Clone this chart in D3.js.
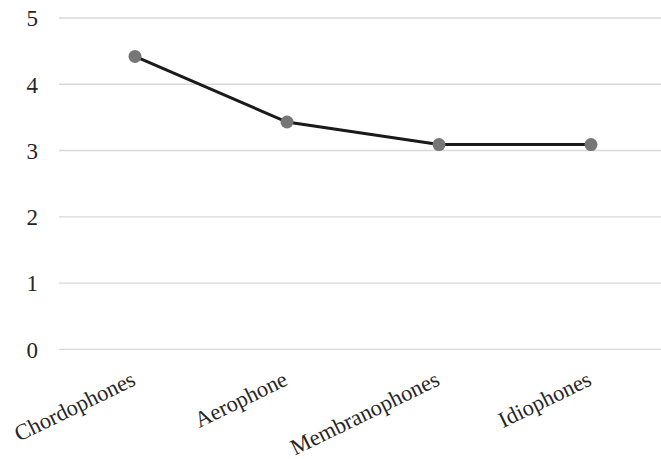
<!DOCTYPE html>
<html>
<head>
<meta charset="utf-8">
<script src="https://cdn.jsdelivr.net/npm/d3@7"></script>
<style>
  html, body { margin: 0; padding: 0; background: #fff; }
  svg { display: block; }
  text { font-family: "Liberation Serif", "Times New Roman", serif; fill: #262626; }
</style>
</head>
<body>
<svg id="chart" width="661" height="459"></svg>
<script>
// Instrument families and their mean scores
const categories = ["Chordophones", "Aerophone", "Membranophones", "Idiophones"];
const values = [4.42, 3.43, 3.09, 3.09];
const yTicks = [0, 1, 2, 3, 4, 5];

const svg = d3.select("#chart");
const plotLeft = 59, plotRight = 667, plotTop = 18, plotBottom = 349.3;

const x = d3.scaleBand().domain(categories).range([plotLeft, plotRight]);
const y = d3.scaleLinear().domain([0, 5]).range([plotBottom, plotTop]);

// Horizontal gridlines
svg.append("g")
  .selectAll("line")
  .data(yTicks)
  .join("line")
  .attr("x1", plotLeft)
  .attr("x2", plotRight)
  .attr("y1", d => y(d))
  .attr("y2", d => y(d))
  .attr("stroke", "#d9d9d9")
  .attr("stroke-width", 1.3);

// Y axis labels
const yAxis = svg.append("g")
  .attr("transform", `translate(${plotLeft - 21},0)`)
  .call(d3.axisLeft(y).tickValues(yTicks).tickSize(0).tickPadding(0).tickFormat(d3.format("d")));
yAxis.select(".domain").remove();
yAxis.selectAll("text")
  .attr("font-size", 23)
  .attr("fill", "#262626")
  .attr("dy", "0.34em");

// X axis labels, rotated
const xAxis = svg.append("g")
  .attr("transform", `translate(0,${plotBottom})`)
  .call(d3.axisBottom(x).tickSize(0).tickPadding(0));
xAxis.select(".domain").remove();
xAxis.selectAll("text")
  .attr("font-size", 22.5)
  .attr("fill", "#262626")
  .attr("text-anchor", "end")
  .attr("y", 0)
  .attr("dy", 0)
  .attr("transform", "translate(2,35) rotate(-26)");

// Line series
const line = d3.line()
  .x((d, i) => x(categories[i]) + x.bandwidth() / 2)
  .y(d => y(d));

svg.append("path")
  .datum(values)
  .attr("d", line)
  .attr("fill", "none")
  .attr("stroke", "#1a1a1a")
  .attr("stroke-width", 3);

svg.append("g")
  .selectAll("circle")
  .data(values)
  .join("circle")
  .attr("cx", (d, i) => x(categories[i]) + x.bandwidth() / 2)
  .attr("cy", d => y(d))
  .attr("r", 6.5)
  .attr("fill", "#767676");
</script>
</body>
</html>
